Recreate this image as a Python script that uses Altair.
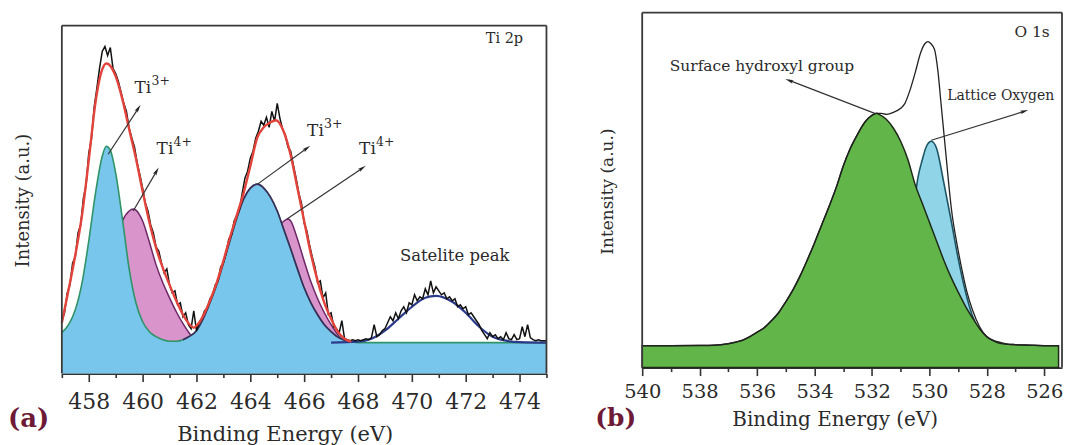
import math
import altair as alt
import pandas as pd

FONT = "DejaVu Serif"

# ---------------- Panel (a): Ti 2p ----------------
raw_x = [457.0, 457.1, 457.2, 457.3, 457.4, 457.5, 457.6, 457.7, 457.8, 457.9,
         458.0, 458.1, 458.2, 458.3, 458.4, 458.5, 458.6, 458.7, 458.8, 458.9,
         459.0, 459.1, 459.2, 459.3, 459.4, 459.5, 459.6, 459.7, 459.8, 459.9,
         460.0, 460.1, 460.2, 460.3, 460.4, 460.5, 460.6, 460.7, 460.8, 460.9,
         461.0, 461.1, 461.2, 461.3, 461.4, 461.5, 461.6, 461.7, 461.8, 461.9,
         462.0, 462.1, 462.2, 462.3, 462.4, 462.5, 462.6, 462.7, 462.8, 462.9,
         463.0, 463.1, 463.2, 463.3, 463.4, 463.5, 463.6, 463.7, 463.8, 463.9,
         464.0, 464.1, 464.2, 464.3, 464.4, 464.5, 464.6, 464.7, 464.8, 464.9,
         465.0, 465.1, 465.2, 465.3, 465.4, 465.5, 465.6, 465.7, 465.8, 465.9,
         466.0, 466.1, 466.2, 466.3, 466.4, 466.5, 466.6, 466.7, 466.8, 466.9,
         467.0, 467.1, 467.2, 467.3, 467.4, 467.5, 467.6, 467.7, 467.8, 467.9,
         468.0, 468.1, 468.2, 468.3, 468.4, 468.5, 468.6, 468.7, 468.8, 468.9,
         469.0, 469.1, 469.2, 469.3, 469.4, 469.5, 469.6, 469.7, 469.8, 469.9,
         470.0, 470.1, 470.2, 470.3, 470.4, 470.5, 470.6, 470.7, 470.8, 470.9,
         471.0, 471.1, 471.2, 471.3, 471.4, 471.5, 471.6, 471.7, 471.8, 471.9,
         472.0, 472.1, 472.2, 472.3, 472.4, 472.5, 472.6, 472.7, 472.8, 472.9,
         473.0, 473.1, 473.2, 473.3, 473.4, 473.5, 473.6, 473.7, 473.8, 473.9,
         474.0, 474.1, 474.2, 474.3, 474.4, 474.5, 474.6, 474.7, 474.8, 474.9,
         475.0]
raw_y = [22, 30, 50, 58, 80, 86, 110, 118, 145, 158,
         190, 204, 236, 255, 275, 292, 297, 288, 296, 275,
         270, 262, 251, 240, 232, 215, 205, 196, 180, 168,
         155, 140, 132, 118, 110, 96, 92, 80, 70, 74,
         58, 50, 52, 38, 40, 26, 30, 18, 14, 32,
         12, 20, 24, 32, 34, 44, 48, 58, 62, 76,
         80, 90, 104, 108, 122, 128, 134, 150, 165, 172,
         185, 192, 205, 212, 222, 218, 226, 216, 232, 222,
         240, 225, 214, 208, 196, 192, 178, 165, 150, 140,
         120, 112, 98, 86, 76, 60, 62, 45, 50, 28,
         30, 16, 14, 10, 22, 4, 3, 2, 3, 2,
         3, 2, 3, 4, 3, 5, 18, 6, 8, 12,
         14, 20, 26, 22, 30, 24, 32, 36, 30, 40,
         38, 48, 42, 46, 44, 54, 48, 62, 50, 56,
         52, 48, 50, 44, 46, 42, 44, 36, 38, 34,
         36, 28, 30, 26, 22, 18, 12, 8, 4, 10,
         6, 8, 4, 6, 3, 10, 4, 3, 8, 3,
         4, 16, 6, 18, 5, 3, 2, 3, 2, 2,
         2]

env_a_x = [457.0, 457.25, 457.5, 457.75, 458.0, 458.25, 458.5, 458.65, 458.75, 459.0,
           459.25, 459.5, 459.75, 460.0, 460.25, 460.5, 460.75, 461.0, 461.25, 461.5,
           461.75, 461.9, 462.0, 462.25, 462.5, 462.75, 463.0, 463.25, 463.5, 463.75,
           464.0, 464.25, 464.5, 464.75, 464.95, 465.25, 465.5, 465.75, 466.0, 466.25,
           466.5, 466.75, 467.0, 467.25, 467.5, 467.75]
env_a_y = [20, 53, 88, 128, 183, 241, 274, 280, 279, 267,
           244, 214, 185, 152, 121, 95, 75, 58, 42, 28,
           18, 15, 17, 27, 42, 60, 82, 106, 128, 150,
           177, 205, 216, 221, 223, 211, 188, 155, 122, 89,
           62, 40, 24, 11, 4, 1]

ti3_x = [457.0, 457.25, 457.5, 457.75, 458.0, 458.25, 458.5, 458.65, 458.8, 459.0,
         459.25, 459.5, 459.75, 460.0, 460.25, 460.5, 460.75, 461.0,
         461.25, 461.5, 461.75, 462.0, 462.25, 462.5, 462.75, 463.0, 463.25, 463.5,
         463.75, 464.0, 464.27, 464.5, 464.75, 465.0, 465.25, 465.5, 465.75, 466.0,
         466.25, 466.5, 466.75, 467.0, 467.25, 467.5, 467.75, 468.0,
         469.0, 470.0, 471.0, 472.0, 473.0, 474.0, 475.0]
ti3_y = [10, 18, 33, 60, 102, 150, 187, 197, 193, 170,
         124, 74, 40, 21, 11, 6, 3, 1.5,
         1.5, 3, 6.5, 12, 24, 40, 58, 80, 103, 125,
         144, 155, 159, 155, 146, 132, 113, 94, 74, 55,
         40, 28, 18, 11, 5.5, 2.5, 1, 0,
         0, 0, 0, 0, 0, 0, 0]

ti4_x = [457.0, 457.5, 458.0, 458.25, 458.5, 458.75, 459.0, 459.25, 459.5, 459.65,
         459.75, 460.0, 460.25, 460.5, 460.75, 461.0, 461.25, 461.5, 461.75, 462.0,
         462.25, 462.5, 463.0, 463.5, 463.75, 464.0, 464.25, 464.5, 464.75, 465.0,
         465.25, 465.4, 465.5, 465.75, 466.0, 466.25, 466.5, 466.75, 467.0, 467.25,
         467.5, 467.75, 468.0]
ti4_y = [2, 8, 25, 40, 58, 78, 100, 122, 132, 134,
         133, 122, 101, 78, 60, 45, 31, 19, 9, 3,
         1, 0, 0, 12, 22, 36, 52, 72, 95, 114,
         122, 124, 122, 104, 82, 61, 44, 30, 18, 8,
         2, 0, 0]

sat_x = [467.0, 468.0, 468.5, 469.0, 469.5, 470.0, 470.5, 470.9, 471.5, 472.0,
         472.5, 473.0, 473.5, 474.0, 475.0]
sat_y = [0, 1, 4, 12, 24, 36, 45, 47, 41, 30, 16, 6, 2, 0.5, 0]

ticks_a = list(range(457, 476))

# ---------------- Panel (b): O 1s ----------------
oh_x = [540.0, 539.0, 538.0, 537.5, 537.25, 537.0, 536.75, 536.5, 536.25, 536.0,
        535.75, 535.5, 535.25, 535.0, 534.75, 534.5, 534.25, 534.0, 533.75, 533.5,
        533.25, 533.0, 532.75, 532.5, 532.25, 532.0, 531.84, 531.75, 531.5, 531.25,
        531.0, 530.75, 530.5, 530.25, 530.0, 529.75, 529.5, 529.25, 529.0, 528.75,
        528.5, 528.25, 528.0, 527.75, 527.5, 527.25, 527.0, 526.5, 526.0, 525.5]
oh_y = [0, 0, 0.2, 0.5, 1, 2, 3.5, 5.5, 9, 13.5,
        18, 25, 33, 44, 56, 70, 86, 103, 121, 139,
        158, 180, 198, 212, 224, 231, 233, 232, 227, 218,
        205, 187, 162, 143, 124, 105, 86, 69, 54, 40,
        28, 17, 9, 5, 3, 1.5, 1, 0.5, 0, 0]

lat_x = [532.5, 532.0, 531.5, 531.25, 531.0, 530.75, 530.5, 530.4, 530.25, 530.1,
         529.93, 529.75, 529.5, 529.25, 529.0, 528.75, 528.5, 528.25, 528.0, 527.75,
         527.5, 527.0]
lat_y = [0, 5, 17, 34, 60, 103, 148, 168, 186, 200,
         205, 198, 164, 127, 88, 55, 30, 15, 6, 2,
         0.5, 0]

env_b_x = [540.0, 539.0, 538.0, 537.5, 537.25, 537.0, 536.75, 536.5, 536.25, 536.0,
           535.75, 535.5, 535.25, 535.0, 534.75, 534.5, 534.25, 534.0, 533.75, 533.5,
           533.25, 533.0, 532.75, 532.5, 532.25, 532.0, 531.84, 531.67, 531.5, 531.25,
           531.0, 530.85, 530.7, 530.5, 530.3, 530.15, 530.05, 529.95, 529.82, 529.7,
           529.6, 529.5, 529.4, 529.3, 529.2, 529.1, 529.0, 528.85, 528.7, 528.5,
           528.25, 528.0, 527.75, 527.5, 527.0, 526.5, 526.0, 525.5]
env_b_y = [0, 0, 0.2, 0.5, 1, 2, 3.5, 5.5, 9, 13.5,
           18, 25, 33, 44, 56, 70, 86, 103, 121, 139,
           158, 180, 198, 212, 224, 231, 233, 233, 232, 234,
           238, 243, 254, 273, 294, 303, 305, 303, 297, 275,
           245, 215, 185, 155, 130, 112, 96, 74, 55, 36,
           19, 9, 4.5, 2, 1, 0.5, 0, 0]

ticks_b = list(range(526, 541))

# ---------------- layout constants ----------------
WA, HA = 486, 362
WB, HB = 421, 356
A_XDOM = [457, 475]
A_YDOM = [-31, 331]
A_FRAME_TOP = 318
B_XDOM = [525.38, 540]
B_YDOM = [-22, 334]

BLUE_A = "#79c6ec"
MAG = "#c866b5"
MAG_LINE = "#6e2766"
TEAL_LINE = "#2f9467"
PURP_LINE = "#3f2a5e"
RED = "#e2433b"
GREEN_B = "#62b548"
BLUE_B = "#5fc3dd"
TXT = "#2a2a2a"
MAROON = "#6e1a36"
FRAME = "#3a3a3a"

tick_cond = {"condition": {"test": "datum.value % 2 === 0", "value": 8}, "value": 4}


def x_axis(values, lsize, lpad, tsize, tx, ty):
    return alt.Axis(values=values, labelExpr="datum.value % 2 === 0 ? datum.label : ''",
                    tickSize=tick_cond, tickWidth=1.6, tickColor="#333",
                    domainColor="#333", domainWidth=1.6, grid=False,
                    labelFont=FONT, labelFontSize=lsize, labelColor=TXT,
                    labelPadding=lpad, labelFlush=False, labelOverlap=False,
                    title="Binding Energy (eV)", titleFont=FONT, titleFontSize=tsize,
                    titleFontWeight="normal", titleColor=TXT, titleX=tx, titleY=ty,
                    titleBaseline="alphabetic", titleAlign="center")


def y_axis(tsize, tx, ty):
    return alt.Axis(labels=False, ticks=False, domain=False, grid=False,
                    title="Intensity (a.u.)", titleFont=FONT, titleFontSize=tsize,
                    titleFontWeight="normal", titleColor=TXT, titleX=tx, titleY=ty,
                    titleAngle=270, titleBaseline="middle", titleAlign="center")


ax_a = x_axis(ticks_a, 22, 10.5, 21, 223.5, 67)
ay_a = y_axis(18, -38, 188)
ax_b = x_axis(ticks_b, 19.5, 7, 20, 193, 58)
ay_b = y_axis(17, -35, 179)

sx_a = alt.Scale(domain=A_XDOM, nice=False, zero=False)
sy_a = alt.Scale(domain=A_YDOM, nice=False, zero=False)
sx_b = alt.Scale(domain=B_XDOM, reverse=True, nice=False, zero=False)
sy_b = alt.Scale(domain=B_YDOM, nice=False, zero=False)


def XA(f="x"):
    return alt.X(f"{f}:Q", scale=sx_a, axis=ax_a)


def YA(f="y"):
    return alt.Y(f"{f}:Q", scale=sy_a, axis=ay_a)


def XB(f="x"):
    return alt.X(f"{f}:Q", scale=sx_b, axis=ax_b)


def YB(f="y"):
    return alt.Y(f"{f}:Q", scale=sy_b, axis=ay_b)


ARROW = "M0,-1L0.45,1L0,0.55L-0.45,1Z"


def arrow_tables(arrows, kx, ky):
    lines, heads = [], []
    for x0, y0, x1, y1 in arrows:
        ang = (math.degrees(math.atan2((x1 - x0) * kx, (y1 - y0) * ky)) + 360) % 360
        lines.append({"x": x0, "y": y0, "x2": x1, "y2": y1})
        heads.append({"x": x1, "y": y1, "ang": ang})
    return pd.DataFrame(lines), pd.DataFrame(heads)


def frame_table(xdom, ybot, ytop):
    # left, right and top edges of the box round the plot
    return pd.DataFrame({"x": [xdom[0], xdom[1], xdom[0]],
                         "x2": [xdom[0], xdom[1], xdom[1]],
                         "y": [ybot, ybot, ytop],
                         "y2": [ytop, ytop, ytop]})


# ---------- panel (a) layers ----------
df_raw = pd.DataFrame({"x": raw_x, "y": raw_y})
df_env_a = pd.DataFrame({"x": env_a_x, "y": env_a_y})
df_ti3 = pd.DataFrame({"x": ti3_x, "y": ti3_y})
df_ti4 = pd.DataFrame({"x": ti4_x, "y": ti4_y})
df_sat = pd.DataFrame({"x": sat_x, "y": sat_y})

arrows_a = [(458.72, 189, 459.84, 235), (459.65, 132, 460.52, 172),
            (464.27, 159, 466.10, 195), (465.36, 124, 468.16, 175)]
kxa = WA / (A_XDOM[1] - A_XDOM[0])
kya = HA / (A_YDOM[1] - A_YDOM[0])
df_arr_a, df_head_a = arrow_tables(arrows_a, kxa, kya)

df_ti_lbl = pd.DataFrame({"x": [459.70, 460.52, 466.11, 468.04],
                          "y": [255, 194, 212, 194],
                          "sup": ["3+", "4+", "3+", "4+"]})
df_txt_a = pd.DataFrame({"x": [471.59, 473.44], "y": [87, 305],
                         "t": ["Satelite peak", "Ti 2p"], "fs": [16.5, 14.5]})
df_frame_a = frame_table(A_XDOM, A_YDOM[0], A_FRAME_TOP)

l_ti4 = alt.Chart(df_ti4).mark_area(
    color=MAG, interpolate="monotone",
    line={"color": MAG_LINE, "strokeWidth": 1.5}).encode(
    x=XA(), y=YA(), y2=alt.datum(0))
l_ti3 = alt.Chart(df_ti3).mark_area(color=BLUE_A, interpolate="monotone").encode(
    x=XA(), y=YA(), y2=alt.datum(A_YDOM[0]))
l_ti3_line = alt.Chart(df_ti3).mark_line(color=TEAL_LINE, strokeWidth=1.6,
                                         interpolate="monotone").encode(x=XA(), y=YA())
l_ti3b_line = alt.Chart(df_ti3).transform_filter(
    "datum.x >= 461.5 && datum.x <= 467.75").mark_line(
    color=PURP_LINE, strokeWidth=1.6, interpolate="monotone").encode(x=XA(), y=YA())
l_sat = alt.Chart(df_sat).mark_line(color="#2c3a8c", strokeWidth=2.2,
                                    interpolate="monotone").encode(x=XA(), y=YA())
l_raw = alt.Chart(df_raw).mark_line(color="#111111", strokeWidth=1.5).encode(x=XA(), y=YA())
l_env_a = alt.Chart(df_env_a).mark_line(color=RED, strokeWidth=2.4,
                                        interpolate="monotone").encode(x=XA(), y=YA())
l_arr_a = alt.Chart(df_arr_a).mark_rule(color="#333", strokeWidth=1.2).encode(
    x=XA(), y=YA(), x2="x2:Q", y2="y2:Q")
l_head_a = alt.Chart(df_head_a).mark_point(
    shape=ARROW, filled=True, color="#222", size=70, opacity=1).encode(
    x=XA(), y=YA(), angle=alt.Angle("ang:Q", scale=None))
l_ti = alt.Chart(df_ti_lbl).mark_text(
    text="Ti", align="left", baseline="middle", font=FONT, fontSize=17, color=TXT).encode(
    x=XA(), y=YA())
l_sup = alt.Chart(df_ti_lbl).mark_text(
    align="left", baseline="middle", font=FONT, fontSize=12.5, color=TXT, dx=17, dy=-7).encode(
    x=XA(), y=YA(), text="sup:N")
l_txt_a = alt.Chart(df_txt_a).mark_text(
    align="center", baseline="middle", font=FONT, color=TXT).encode(
    x=XA(), y=YA(), text="t:N", size=alt.Size("fs:Q", scale=None, legend=None))
l_frame_a = alt.Chart(df_frame_a).mark_rule(color=FRAME, strokeWidth=1.8).encode(
    x=XA(), x2="x2:Q", y=YA(), y2="y2:Q")
l_tag_a = alt.Chart(pd.DataFrame({"t": ["(a)"]})).mark_text(
    align="left", baseline="middle", font=FONT, fontSize=26, fontWeight="bold",
    color=MAROON).encode(x=alt.value(-54), y=alt.value(408), text="t:N")

panel_a = alt.layer(l_ti4, l_ti3, l_ti3_line, l_ti3b_line, l_sat, l_raw, l_env_a,
                    l_arr_a, l_head_a, l_ti, l_sup, l_txt_a, l_frame_a, l_tag_a
                    ).properties(width=WA, height=HA)

# ---------- panel (b) layers ----------
df_oh = pd.DataFrame({"x": oh_x, "y": oh_y})
df_lat = pd.DataFrame({"x": lat_x, "y": lat_y})
df_env_b = pd.DataFrame({"x": env_b_x, "y": env_b_y})

arrows_b = [(531.9, 233, 534.88, 266), (529.93, 206, 526.69, 235)]
kxb = -WB / (B_XDOM[1] - B_XDOM[0])
kyb = HB / (B_YDOM[1] - B_YDOM[0])
df_arr_b, df_head_b = arrow_tables(arrows_b, kxb, kyb)

df_txt_b = pd.DataFrame({"x": [535.83, 526.42], "y": [280, 315],
                         "t": ["Surface hydroxyl group", "O 1s"]})
df_lat_lbl = pd.DataFrame({"x": [529.38], "y": [250], "t": ["Lattice Oxygen"]})
df_frame_b = frame_table(B_XDOM, B_YDOM[0], B_YDOM[1])

l_lat = alt.Chart(df_lat).mark_area(
    color=BLUE_B, interpolate="monotone",
    line={"color": "#1d5566", "strokeWidth": 1.6}).encode(x=XB(), y=YB(), y2=alt.datum(0))
l_oh = alt.Chart(df_oh).mark_area(
    color=GREEN_B, interpolate="monotone", stroke="#1f2a1a", strokeWidth=1.5).encode(
    x=XB(), y=YB(), y2=alt.datum(B_YDOM[0]))
l_env_b = alt.Chart(df_env_b).mark_line(color="#222", strokeWidth=1.3,
                                        interpolate="monotone").encode(x=XB(), y=YB())
l_arr_b = alt.Chart(df_arr_b).mark_rule(color="#333", strokeWidth=1.2).encode(
    x=XB(), y=YB(), x2="x2:Q", y2="y2:Q")
l_head_b = alt.Chart(df_head_b).mark_point(
    shape=ARROW, filled=True, color="#222", size=70, opacity=1).encode(
    x=XB(), y=YB(), angle=alt.Angle("ang:Q", scale=None))
l_txt_b = alt.Chart(df_txt_b).mark_text(
    align="center", baseline="middle", font=FONT, fontSize=15.5, color=TXT).encode(
    x=XB(), y=YB(), text="t:N")
l_lat_lbl = alt.Chart(df_lat_lbl).mark_text(
    align="left", baseline="middle", font=FONT, fontSize=14, color=TXT).encode(
    x=XB(), y=YB(), text="t:N")
l_frame_b = alt.Chart(df_frame_b).mark_rule(color=FRAME, strokeWidth=1.8).encode(
    x=XB(), x2="x2:Q", y=YB(), y2="y2:Q")
l_tag_b = alt.Chart(pd.DataFrame({"t": ["(b)"]})).mark_text(
    align="left", baseline="middle", font=FONT, fontSize=25, fontWeight="bold",
    color=MAROON).encode(x=alt.value(-47), y=alt.value(407), text="t:N")

panel_b = alt.layer(l_lat, l_oh, l_env_b, l_arr_b, l_head_b, l_txt_b, l_lat_lbl,
                    l_frame_b, l_tag_b).properties(width=WB, height=HB)

chart = alt.hconcat(panel_a, panel_b, spacing=44).properties(
    padding={"left": 0, "top": 3, "right": 0, "bottom": 0}
).configure(font=FONT, background="white").configure_view(
    stroke="transparent", strokeWidth=0)

chart.save("out.html", embed_options={"renderer": "svg", "actions": False})
